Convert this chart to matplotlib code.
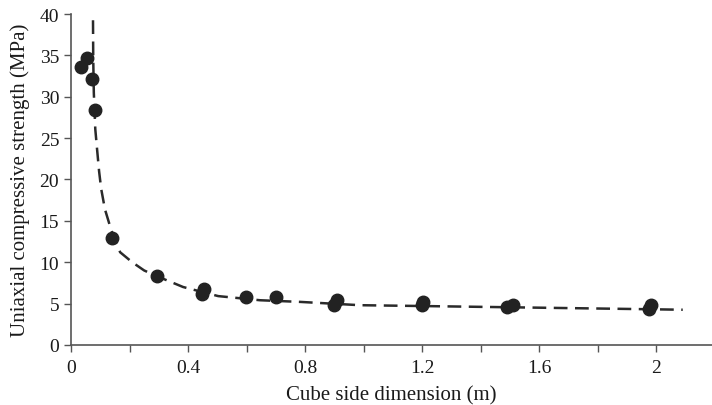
import matplotlib.pyplot as plt
from matplotlib.ticker import FuncFormatter, MultipleLocator

# measured data: cube side (m) vs uniaxial compressive strength (MPa)
side = [0.033, 0.054, 0.073, 0.082, 0.141, 0.293, 0.447, 0.455, 0.597,
        0.701, 0.899, 0.908, 1.200, 1.203, 1.491, 1.510, 1.976, 1.983]
strength = [33.6, 34.7, 32.2, 28.4, 12.9, 8.3, 6.1, 6.8, 5.8,
            5.8, 4.8, 5.4, 4.8, 5.2, 4.6, 4.8, 4.4, 4.8]

# fitted trend
trend_x = [0.0745, 0.075, 0.076, 0.078, 0.083, 0.089, 0.096, 0.103, 0.116,
           0.133, 0.150, 0.168, 0.209, 0.250, 0.294, 0.383, 0.503, 0.646,
           0.783, 0.988, 1.200, 1.600, 2.000, 2.090]
trend_y = [42.0, 40.6, 34.6, 30.5, 26.1, 23.7, 21.0, 18.9, 16.4,
           14.4, 12.6, 11.2, 10.0, 9.0, 8.3, 7.0, 5.9, 5.4,
           5.2, 4.8, 4.7, 4.5, 4.3, 4.25]

plt.rcParams['font.family'] = ['Liberation Serif', 'DejaVu Serif']

fig = plt.figure(figsize=(7.12, 4.06), dpi=100)
ax = fig.add_axes([0.0997, 0.148, 0.9003, 0.815])

ax.plot(trend_x, trend_y, color='#2a2a2a', lw=1.8,
        linestyle=(0, (5.5, 3)), zorder=2, clip_on=True)
ax.plot(side, strength, 'o', color='#222222', ms=9, zorder=3,
        clip_on=False)

ax.set_xlim(0, 2.19)
ax.set_ylim(0, 40)
ax.xaxis.set_major_locator(MultipleLocator(0.2))
ax.xaxis.set_major_formatter(FuncFormatter(
    lambda v, p: '' if round(v / 0.2) % 2 else f'{v:g}'))
ax.yaxis.set_major_locator(MultipleLocator(5))

for side_name in ('top', 'right'):
    ax.spines[side_name].set_visible(False)
for side_name in ('left', 'bottom'):
    ax.spines[side_name].set_color('#555555')
    ax.spines[side_name].set_linewidth(1.2)
ax.tick_params(direction='out', length=5, width=1.0, color='#555555',
               labelsize=14, labelcolor='#1a1a1a')
ax.tick_params(axis='x', pad=5)

ax.set_xlabel('Cube side dimension (m)', fontsize=15, color='#1a1a1a',
              labelpad=7)
ax.set_ylabel('Uniaxial compressive strength (MPa)', fontsize=15,
              color='#1a1a1a', labelpad=7)

fig.savefig('out.png', dpi=100)
